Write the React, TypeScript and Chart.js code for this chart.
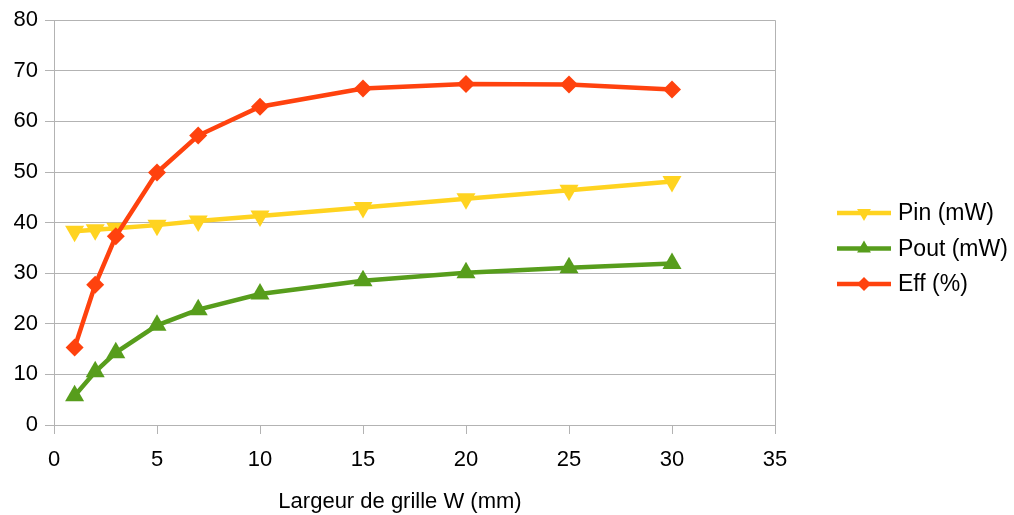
import React, { useEffect, useRef } from "react";
import { Chart, registerables } from "chart.js";

Chart.register(...registerables);

const widths = [1, 2, 3, 5, 7, 10, 15, 20, 25, 30];
const pinValues = [38.3, 38.6, 38.9, 39.5, 40.3, 41.3, 43.0, 44.7, 46.4, 48.1];
const poutValues = [5.8, 10.5, 14.3, 19.7, 22.8, 25.9, 28.5, 30.1, 31.1, 31.9];
const effValues = [15.3, 27.7, 37.3, 49.9, 57.2, 62.9, 66.5, 67.4, 67.3, 66.3];
const seriesLabels = ["Pin (mW)", "Pout (mW)", "Eff (%)"];
const xTitle = "Largeur de grille W (mm)";

const COLORS = ["#ffd320", "#579d1c", "#ff420e"];
const STYLES = ["triangleDown", "triangle", "rectRot"];
const FONT = "'Liberation Sans', Arial, sans-serif";
const GRID = "#b3b3b3";

function drawMarker(ctx: CanvasRenderingContext2D, style: string, x: number, y: number, r: number) {
  ctx.beginPath();
  if (style === "rectRot") {
    ctx.moveTo(x, y - r);
    ctx.lineTo(x + r, y);
    ctx.lineTo(x, y + r);
    ctx.lineTo(x - r, y);
  } else if (style === "triangle") {
    ctx.moveTo(x, y - r);
    ctx.lineTo(x + r * 0.866, y + r * 0.5);
    ctx.lineTo(x - r * 0.866, y + r * 0.5);
  } else {
    ctx.moveTo(x, y + r);
    ctx.lineTo(x + r * 0.866, y - r * 0.5);
    ctx.lineTo(x - r * 0.866, y - r * 0.5);
  }
  ctx.closePath();
  ctx.fill();
}

const legendAndTitle = {
  id: "legendAndTitle",
  afterDraw(chart: any) {
    const ctx = chart.ctx as CanvasRenderingContext2D;
    ctx.save();
    ctx.textBaseline = "middle";
    ctx.textAlign = "left";
    ctx.font = `23px ${FONT}`;
    const y0 = 213;
    const dy = 35.5;
    seriesLabels.forEach((label, i) => {
      const y = y0 + i * dy;
      ctx.strokeStyle = COLORS[i];
      ctx.fillStyle = COLORS[i];
      ctx.lineWidth = 4.5;
      ctx.beginPath();
      ctx.moveTo(837, y);
      ctx.lineTo(891, y);
      ctx.stroke();
      drawMarker(ctx, STYLES[i], 864, y, i === 2 ? 7 : 8);
      ctx.fillStyle = "#000";
      ctx.fillText(label, 898, y + 1);
    });
    ctx.font = `22px ${FONT}`;
    ctx.textAlign = "center";
    ctx.fillText(xTitle, 400, 502);
    ctx.restore();
  },
};

export default function App() {
  const ref = useRef<HTMLCanvasElement | null>(null);
  useEffect(() => {
    if (!ref.current) return;
    const data = [pinValues, poutValues, effValues];
    const chart = new Chart(ref.current, {
      type: "line",
      data: {
        datasets: data.map((vals, i) => ({
          label: seriesLabels[i],
          data: widths.map((w, j) => ({ x: w, y: vals[j] })),
          borderColor: COLORS[i],
          backgroundColor: COLORS[i],
          borderWidth: 4.5,
          pointStyle: i === 2 ? "rectRot" : "triangle",
          rotation: i === 0 ? 180 : 0,
          pointRadius: i === 2 ? 9 : 11,
          pointBorderWidth: 0,
          tension: 0,
          order: 2 - i,
        })),
      },
      options: {
        animation: false,
        responsive: false,
        maintainAspectRatio: false,
        layout: { padding: { top: 18, right: 239, bottom: 0, left: 0 } },
        plugins: { legend: { display: false }, tooltip: { enabled: false } },
        scales: {
          x: {
            type: "linear",
            min: 0,
            max: 35,
            ticks: { stepSize: 5, color: "#000", font: { family: FONT, size: 22 }, padding: 13, maxRotation: 0 },
            grid: {
              color: (c: any) => (c.tick && c.tick.value === 35 ? GRID : "rgba(0,0,0,0)"),
              tickColor: GRID,
              tickLength: 9,
              lineWidth: 1,
            },
            border: { display: true, color: GRID, width: 1 },
            afterFit: (s: any) => {
              s.height = 90;
            },
          },
          y: {
            min: 0,
            max: 80,
            ticks: { stepSize: 10, color: "#000", font: { family: FONT, size: 22 }, padding: 7 },
            grid: { color: GRID, tickColor: GRID, tickLength: 9, lineWidth: 1 },
            border: { display: true, color: GRID, width: 1 },
            afterFit: (s: any) => {
              s.width = 54;
            },
          },
        },
      },
      plugins: [legendAndTitle],
    });
    return () => chart.destroy();
  }, []);
  return (
    <div style={{ position: "fixed", left: 0, top: 0, width: 1014, height: 515, background: "#fff" }}>
      <canvas ref={ref} width={1014} height={515} style={{ display: "block" }} />
    </div>
  );
}
